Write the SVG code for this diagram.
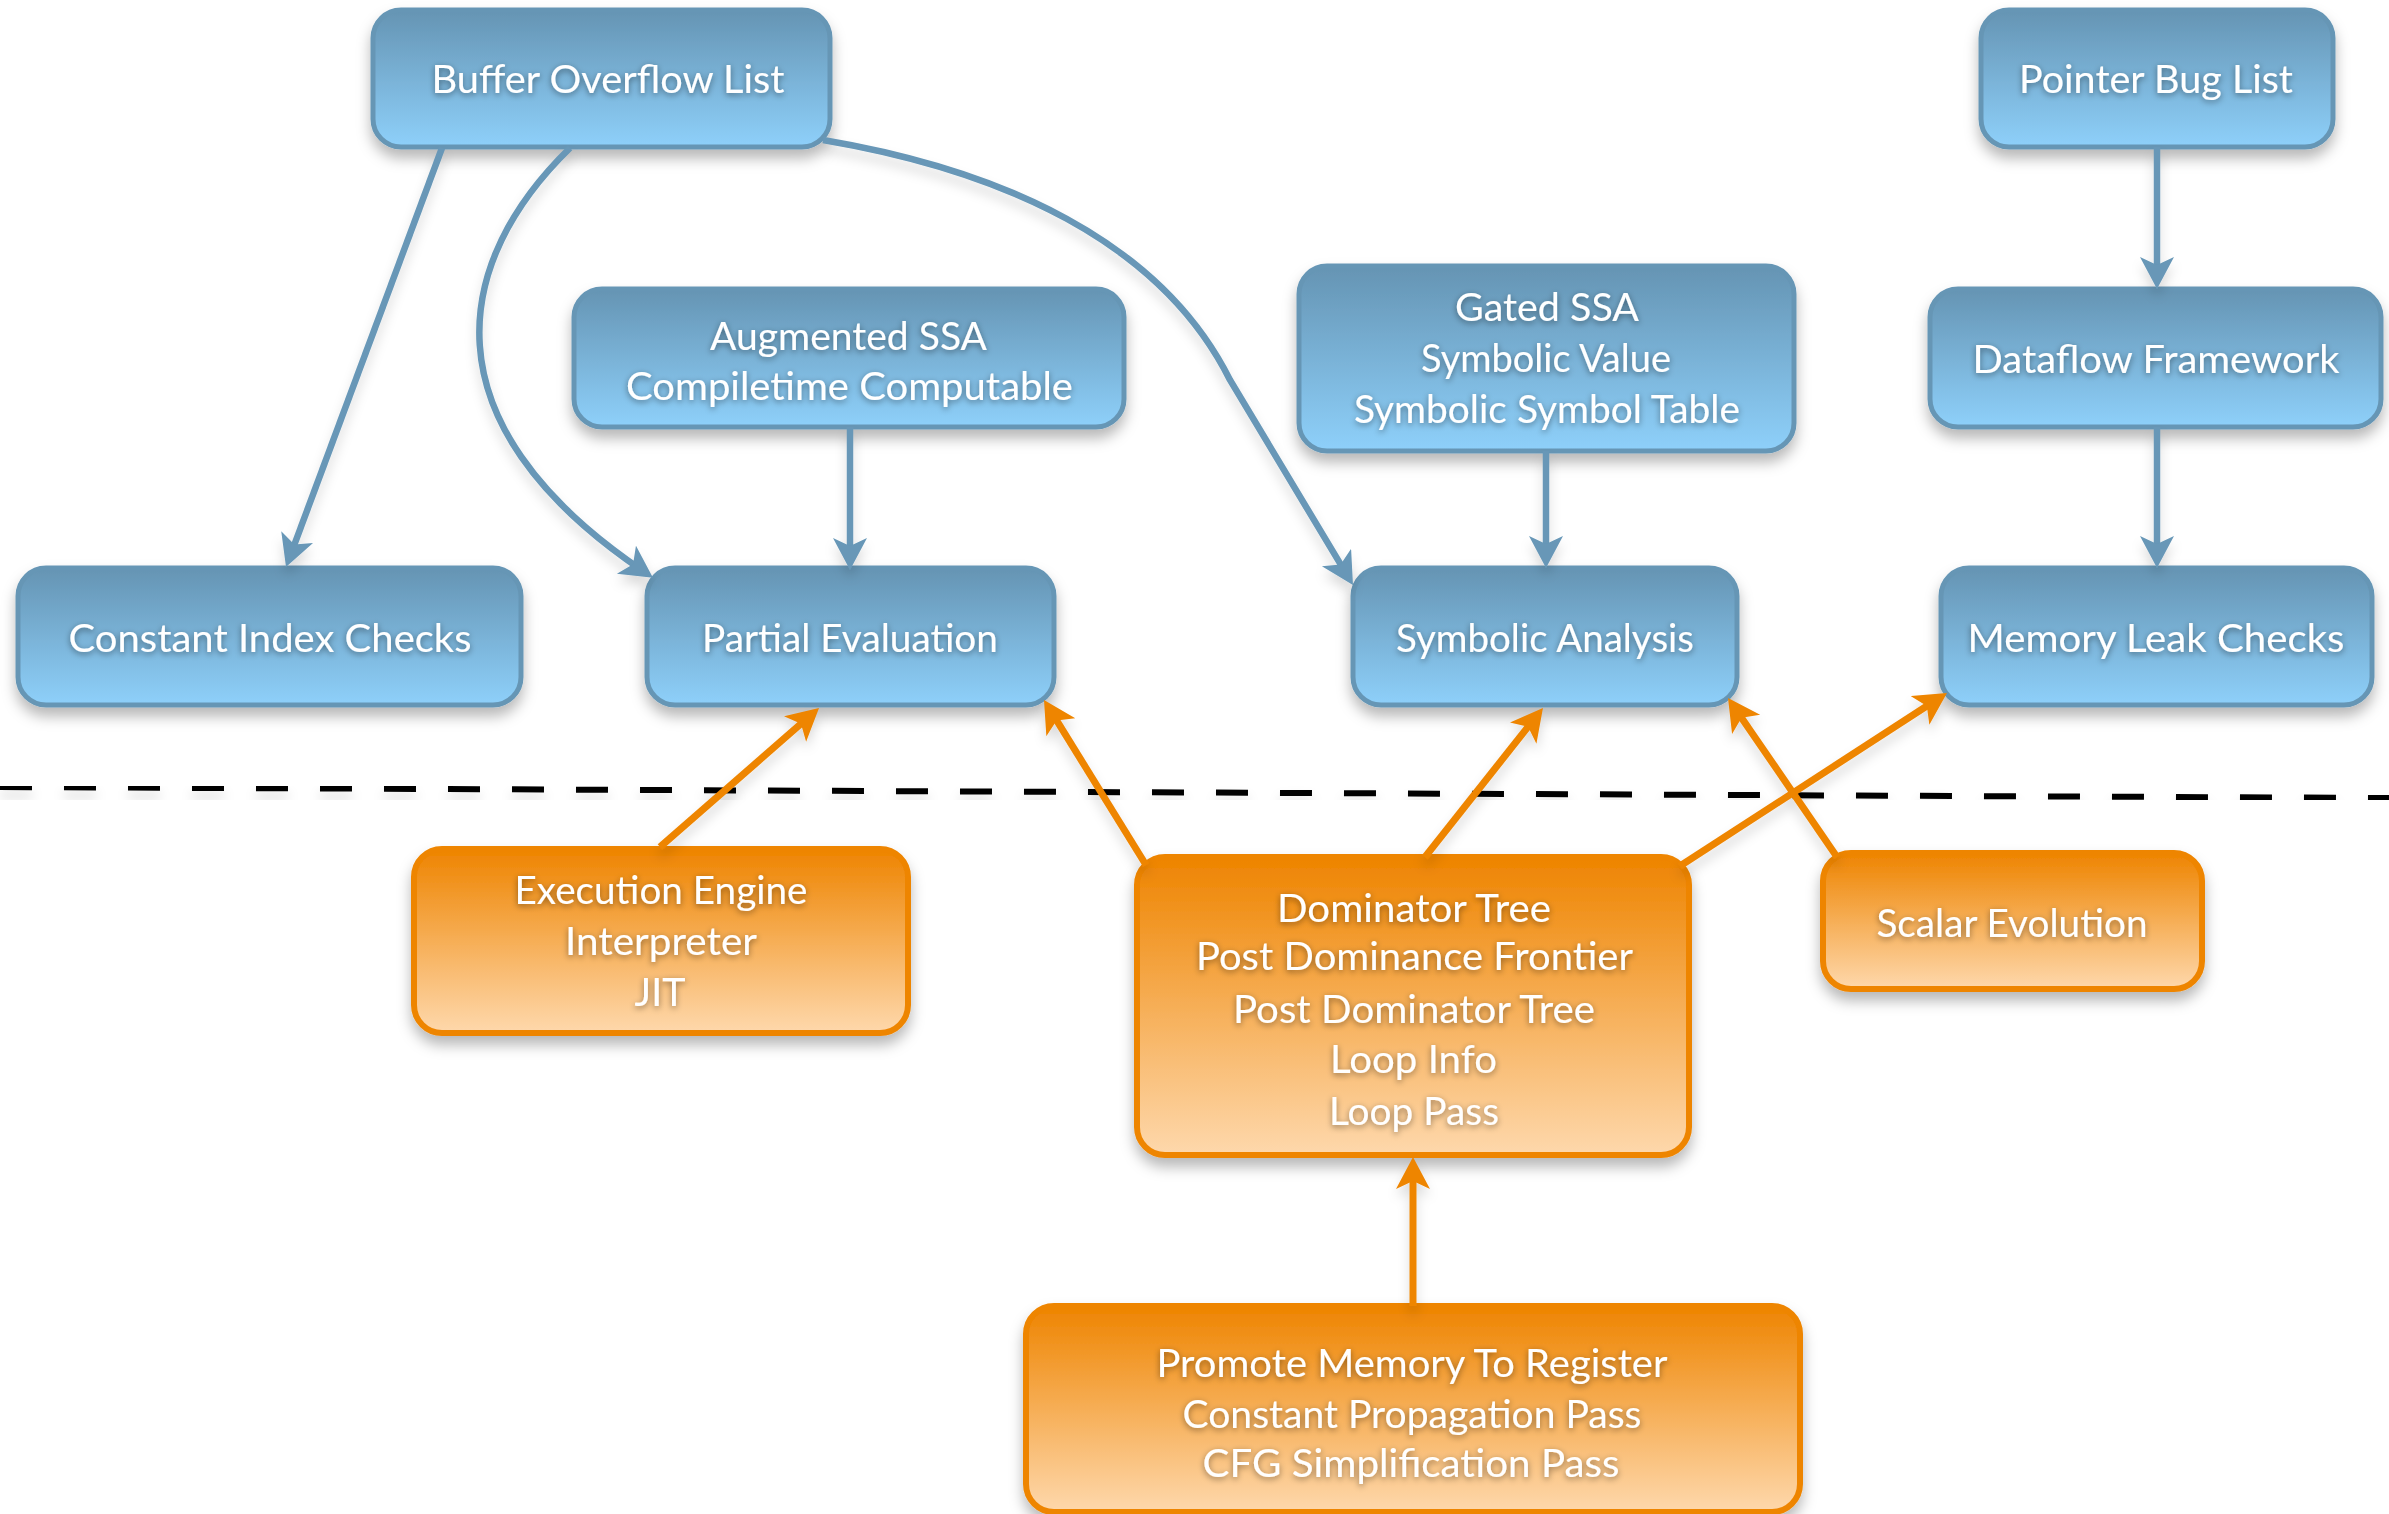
<svg xmlns="http://www.w3.org/2000/svg" width="2389" height="1514" viewBox="0 0 2389 1514">
<style>
.nb rect{fill:url(#gb);stroke:#6696b5;stroke-width:5}
.no rect{fill:url(#go);stroke:#ee8500;stroke-width:6}
.nb,.no{filter:url(#sh)}
text{font-family:Lato,"Open Sans","DejaVu Sans",sans-serif;font-size:39px;fill:#fff;text-anchor:middle;filter:url(#ts)}
.cb{fill:none;stroke:#6797b7;stroke-width:6.5;marker-end:url(#ab)}
.co{fill:none;stroke:#ee8500;stroke-width:7;marker-end:url(#ao)}
#connectors{filter:url(#cs)}
</style>
<defs>
<linearGradient id="gb" x1="0" y1="0" x2="0" y2="1">
<stop offset="0" stop-color="#6594b3"/>
<stop offset="1" stop-color="#8ed0fa"/>
</linearGradient>
<linearGradient id="go" x1="0" y1="0" x2="0" y2="1">
<stop offset="0" stop-color="#ee8400"/>
<stop offset="1" stop-color="#fed8ac"/>
</linearGradient>
<filter id="sh" x="-10%" y="-10%" width="120%" height="140%">
<feDropShadow dx="0" dy="9" stdDeviation="7" flood-color="#000" flood-opacity="0.28"/>
</filter>
<filter id="ts" x="-10%" y="-30%" width="120%" height="170%">
<feDropShadow dx="0" dy="2" stdDeviation="3" flood-color="#000" flood-opacity="0.45"/>
</filter>
<filter id="cs" x="-5%" y="-5%" width="110%" height="115%">
<feDropShadow dx="0" dy="8" stdDeviation="6" flood-color="#000" flood-opacity="0.15"/>
</filter>
<marker id="ab" markerUnits="userSpaceOnUse" markerWidth="40" markerHeight="40" refX="20" refY="17" orient="auto">
<path d="M32,17 L0,0 L8,17 L0,34 Z" fill="#6797b7"/>
</marker>
<marker id="ao" markerUnits="userSpaceOnUse" markerWidth="40" markerHeight="40" refX="20" refY="17" orient="auto">
<path d="M32,17 L0,0 L8,17 L0,34 Z" fill="#ee8500"/>
</marker>
</defs>
<rect width="2389" height="1514" fill="#fff"/>
<g id="divider" style="filter:url(#cs)">
<line x1="0" y1="787" x2="2389" y2="798" stroke="#000" stroke-width="6" stroke-dasharray="32 32"/>
</g>
<g id="n-buffer" class="nb"><rect x="373" y="10" width="457" height="137" rx="28"/><text x="608" y="93" textLength="353" lengthAdjust="spacingAndGlyphs">Buffer Overflow List</text></g>
<g id="n-pointer" class="nb"><rect x="1981" y="10" width="352" height="137" rx="28"/><text x="2156" y="93" textLength="274" lengthAdjust="spacingAndGlyphs">Pointer Bug List</text></g>
<g id="n-augssa" class="nb"><rect x="574" y="289" width="550" height="138" rx="28"/><text x="848.5" y="350" textLength="277" lengthAdjust="spacingAndGlyphs">Augmented SSA</text><text x="849.5" y="400" textLength="447" lengthAdjust="spacingAndGlyphs">Compiletime Computable</text></g>
<g id="n-gatedssa" class="nb"><rect x="1299" y="266" width="495" height="185" rx="28"/><text x="1547" y="321" textLength="184" lengthAdjust="spacingAndGlyphs">Gated SSA</text><text x="1546" y="372" textLength="250" lengthAdjust="spacingAndGlyphs">Symbolic Value</text><text x="1547" y="423" textLength="386" lengthAdjust="spacingAndGlyphs">Symbolic Symbol Table</text></g>
<g id="n-dataflow" class="nb"><rect x="1930" y="289" width="451" height="138" rx="28"/><text x="2156" y="373" textLength="367" lengthAdjust="spacingAndGlyphs">Dataflow Framework</text></g>
<g id="n-constidx" class="nb"><rect x="18" y="568" width="503" height="137" rx="28"/><text x="270" y="652" textLength="403" lengthAdjust="spacingAndGlyphs">Constant Index Checks</text></g>
<g id="n-partial" class="nb"><rect x="647" y="568" width="407" height="137" rx="28"/><text x="850" y="652" textLength="296" lengthAdjust="spacingAndGlyphs">Partial Evaluation</text></g>
<g id="n-symbolic" class="nb"><rect x="1353" y="568" width="384" height="137" rx="28"/><text x="1545" y="652" textLength="298" lengthAdjust="spacingAndGlyphs">Symbolic Analysis</text></g>
<g id="n-memleak" class="nb"><rect x="1941" y="568" width="431" height="137" rx="28"/><text x="2156" y="652" textLength="377" lengthAdjust="spacingAndGlyphs">Memory Leak Checks</text></g>
<g id="n-exec" class="no"><rect x="414" y="849" width="494" height="184" rx="28"/><text x="661" y="904" textLength="293" lengthAdjust="spacingAndGlyphs">Execution Engine</text><text x="661" y="955" textLength="192" lengthAdjust="spacingAndGlyphs">Interpreter</text><text x="660" y="1006" textLength="51" lengthAdjust="spacingAndGlyphs">JIT</text></g>
<g id="n-domtree" class="no"><rect x="1137" y="857" width="552" height="298" rx="28"/><text x="1414" y="922" textLength="274" lengthAdjust="spacingAndGlyphs">Dominator Tree</text><text x="1414.5" y="970" textLength="437" lengthAdjust="spacingAndGlyphs">Post Dominance Frontier</text><text x="1414" y="1023" textLength="362" lengthAdjust="spacingAndGlyphs">Post Dominator Tree</text><text x="1413.5" y="1073" textLength="167" lengthAdjust="spacingAndGlyphs">Loop Info</text><text x="1414" y="1125" textLength="170" lengthAdjust="spacingAndGlyphs">Loop Pass</text></g>
<g id="n-scev" class="no"><rect x="1823" y="853" width="379" height="136" rx="28"/><text x="2012" y="937" textLength="271" lengthAdjust="spacingAndGlyphs">Scalar Evolution</text></g>
<g id="n-promote" class="no"><rect x="1026" y="1306" width="774" height="206" rx="28"/><text x="1412" y="1377" textLength="511" lengthAdjust="spacingAndGlyphs">Promote Memory To Register</text><text x="1412" y="1428" textLength="459" lengthAdjust="spacingAndGlyphs">Constant Propagation Pass</text><text x="1411" y="1477" textLength="417" lengthAdjust="spacingAndGlyphs">CFG Simplification Pass</text></g>
<g id="connectors">
<path class="cb" d="M442,148 L290.2,555.8"/>
<path class="cb" d="M570,148 C455,260 420,420 643,571"/>
<path class="cb" d="M823,140 C1000,170 1160,240 1230,380 L1346.8,574.7"/>
<path class="cb" d="M850,427 L850,558"/>
<path class="cb" d="M1546,451 L1546,556"/>
<path class="cb" d="M2157,147 L2157,277"/>
<path class="cb" d="M2157,427 L2157,556"/>
<path class="co" d="M660,847 L810,715.9"/>
<path class="co" d="M1146,865 L1050.3,710.2"/>
<path class="co" d="M1425,857 L1535.5,717.4"/>
<path class="co" d="M1680,866 L1936.9,699.5"/>
<path class="co" d="M1837,857 L1734.8,707.9"/>
<path class="co" d="M1413,1306 L1413,1169"/>
</g>
</svg>
